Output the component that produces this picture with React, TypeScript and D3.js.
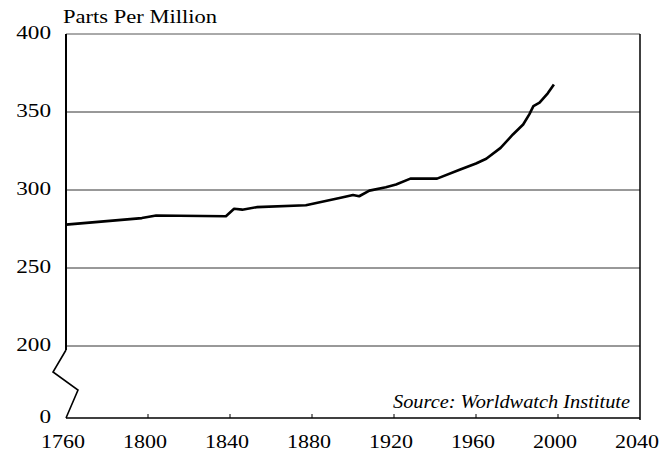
import * as d3 from "d3";

// CO2 concentration, parts per million
const years = [1760, 1797, 1804, 1838, 1842, 1846, 1853, 1877, 1894, 1900, 1903, 1908, 1916, 1921, 1928, 1941, 1952, 1960, 1965, 1972, 1978, 1983, 1986, 1988, 1991, 1995, 1998];
const ppm = [277.8, 282, 283.7, 283.2, 288, 287.4, 289, 290.2, 295, 296.8, 296, 299.6, 301.8, 303.5, 307.3, 307.3, 313, 317, 320, 327, 335.6, 342, 348.5, 353.8, 356, 362, 367.7];

const xTicks = [1760, 1800, 1840, 1880, 1920, 1960, 2000, 2040];
const yTicks = [0, 200, 250, 300, 350, 400];

const W = 661;
const H = 453;
const FONT = '"Times New Roman", Times, "Liberation Serif", "DejaVu Serif", serif';

export default function App() {
  const x = d3.scaleLinear().domain([1760, 2040]).range([66, 640]);
  // broken axis: 0-200 squeezed into the bottom band
  const y = d3.scaleLinear().domain([0, 200, 400]).range([418, 346, 34]);

  const pts: [number, number][] = years.map((yr, i) => [yr, ppm[i]]);
  const line = d3
    .line<[number, number]>()
    .x((d) => x(d[0]))
    .y((d) => y(d[1]));

  const left = x(1760);
  const right = x(2040);
  const y200 = y(200);
  const y0 = y(0);

  const txt = { fontFamily: FONT, fill: "#000" };

  return (
    <svg
      width={W}
      height={H}
      style={{ position: "absolute", left: 0, top: 0, background: "#fff" }}
    >
      {/* gridlines */}
      {yTicks
        .filter((v) => v >= 200)
        .map((v) => (
          <line key={v} x1={left} x2={right} y1={y(v)} y2={y(v)} stroke={v === 400 ? "#555" : "#333"} strokeWidth={1} />
        ))}

      {/* left axis with break */}
      <line x1={left} x2={left} y1={y(400)} y2={y200 + 4} stroke="#000" strokeWidth={2} />
      <polyline
        points={`${left},${y200 + 4} ${left - 13},${y200 + 26} ${left + 12},${y200 + 44} ${left},${y0}`}
        fill="none"
        stroke="#000"
        strokeWidth={1.6}
      />
      {/* right border */}
      <line x1={right} x2={right} y1={y(400)} y2={y0 + 2} stroke="#000" strokeWidth={1.5} />
      {/* bottom axis */}
      <line x1={left} x2={right} y1={y0} y2={y0} stroke="#000" strokeWidth={1.6} />
      {xTicks.slice(1, -1).map((t) => (
        <line key={t} x1={x(t)} x2={x(t)} y1={y0 - 4} y2={y0} stroke="#000" strokeWidth={1} />
      ))}

      {/* data line */}
      <path d={line(pts) ?? ""} fill="none" stroke="#000" strokeWidth={2.6} strokeLinejoin="round" />

      {/* y labels */}
      {yTicks.map((v) => (
        <text
          key={v}
          x={51}
          y={y(v) + 5}
          textAnchor="end"
          style={{ ...txt, fontSize: 18 }}
          textLength={String(v).length * 11.6}
          lengthAdjust="spacingAndGlyphs"
        >
          {v}
        </text>
      ))}

      {/* x labels */}
      {xTicks.map((t) => (
        <text
          key={t}
          x={x(t) - 3}
          y={448}
          textAnchor="middle"
          style={{ ...txt, fontSize: 19 }}
          textLength={44}
          lengthAdjust="spacingAndGlyphs"
        >
          {t}
        </text>
      ))}

      <text
        x={63}
        y={23}
        style={{ ...txt, fontSize: 19 }}
        textLength={154}
        lengthAdjust="spacingAndGlyphs"
      >
        Parts Per Million
      </text>

      <text
        x={393}
        y={408}
        style={{ ...txt, fontSize: 18, fontStyle: "italic" }}
        textLength={237}
        lengthAdjust="spacingAndGlyphs"
      >
        Source: Worldwatch Institute
      </text>
    </svg>
  );
}
